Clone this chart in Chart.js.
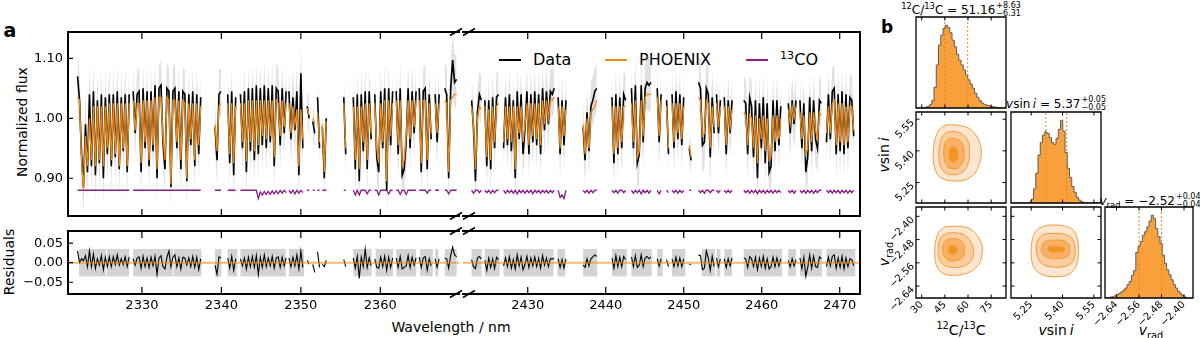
<!DOCTYPE html>
<html>
<head>
<meta charset="utf-8">
<script src="https://cdn.jsdelivr.net/npm/chart.js@4.4.1/dist/chart.umd.min.js"></script>
<style>
  body { margin: 0; background: #fff; }
  #fig { position: relative; width: 1200px; height: 338px; overflow: hidden; font-family: "DejaVu Sans", sans-serif; color: #000; }
  #fig canvas { position: absolute; }
  .t { position: absolute; white-space: nowrap; line-height: 1; transform: translate(-50%, -50%); }
  .rot { transform: translate(-50%, -50%) rotate(-90deg); }
  .hd { position: absolute; height: 2px; }
  sup, sub { font-size: 70%; line-height: 0; }
  .ss { display: inline-flex; flex-direction: column; font-size: 8px; line-height: 1.05; vertical-align: middle; margin-left: 1px; }
</style>
</head>
<body>
<div id="fig">
  <div class="t" style="left:10px;top:30px;font-size:19px;font-weight:bold;">a</div>
  <div class="t" style="left:887px;top:27px;font-size:17px;font-weight:bold;">b</div>
  <div class="t rot" style="left:22px;top:122px;font-size:14px;">Normalized flux</div>
  <div class="t rot" style="left:9px;top:262px;font-size:14px;">Residuals</div>
  <div class="t" style="left:451px;top:327px;font-size:14px;">Wavelength / nm</div>

  <div class="hd" style="left:499px;top:59px;width:22px;background:#000;"></div>
  <div class="t" style="left:533px;top:60px;font-size:16px;transform:translate(0,-50%);">Data</div>
  <div class="hd" style="left:605px;top:59px;width:22px;background:#f08a17;"></div>
  <div class="t" style="left:639px;top:60px;font-size:16px;transform:translate(0,-50%);">PHOENIX</div>
  <div class="hd" style="left:746px;top:59px;width:22px;background:#8b1c8b;"></div>
  <div class="t" style="left:780px;top:60px;font-size:16px;transform:translate(0,-50%);"><sup>13</sup>CO</div>

  <div class="t" style="left:961px;top:10px;font-size:12px;"><sup>12</sup>C/<sup>13</sup>C = 51.16<span class="ss"><span>+8.63</span><span>&minus;6.31</span></span></div>
  <div class="t" style="left:1056px;top:104px;font-size:12px;"><i>v</i>sin&thinsp;<i>i</i> = 5.37<span class="ss"><span>+0.05</span><span>&minus;0.05</span></span></div>
  <div class="t" style="left:1150px;top:201px;font-size:12px;"><i>v</i><sub>rad</sub> = &minus;2.52<span class="ss"><span>+0.04</span><span>&minus;0.04</span></span></div>

  <div class="t" style="left:961px;top:330px;font-size:14px;"><sup>12</sup>C/<sup>13</sup>C</div>
  <div class="t" style="left:1056px;top:330px;font-size:14px;"><i>v</i>sin&thinsp;<i>i</i></div>
  <div class="t" style="left:1151px;top:330px;font-size:14px;"><i>v</i><sub>rad</sub></div>
  <div class="t rot" style="left:884px;top:155px;font-size:14px;"><i>v</i>sin&thinsp;<i>i</i></div>
  <div class="t rot" style="left:884px;top:254px;font-size:14px;"><i>v</i><sub>rad</sub></div>
</div>
<script>
// ---- spectrum (panel a) ----
const STEP = 0.25; // nm between samples inside a chunk
const waveRangeLeft = [2320.7, 2369.9];
const waveRangeRight = [2421.7, 2472.6];
const fluxRange = [0.837, 1.144];
const residRange = [-0.08, 0.081];
const waveTicksLeft = [2330, 2340, 2350, 2360];
const waveTicksRight = [2430, 2440, 2450, 2460, 2470];
const fluxTicks = [0.90, 1.00, 1.10];
const residTicks = [-0.05, 0, 0.05];
const residBand = 0.035;

const startsLeft = [2321.9, 2328.9, 2339.2, 2340.8, 2342.4, 2348.5, 2350.8, 2351.5, 2352.1, 2352.7, 2355.4, 2356.6, 2359.3, 2362.0, 2364.9, 2366.9, 2368.1];
const modelLeft = [
  [1.035,1.03,0.93,0.88,0.97,0.92,1.0,0.93,1.02,0.92,1.02,0.93,1.02,0.92,1.02,0.95,1.025,0.93,1.025,0.94,1.025,0.92,1.025,0.95,1.025,0.92,1.025],
  [1.03,0.98,1.025,1.025,0.925,1.03,0.96,1.03,0.93,1.03,0.955,1.035,0.915,1.035,1.035,0.97,0.93,1.035,1.03,0.89,1.03,1.03,0.96,1.03,0.93,1.03,1.025,0.9,1.025,0.965,1.025,0.93,1.025,0.955,1.02],
  [0.99,0.945,1.02,1.025],
  [1.025,0.94,1.025,0.925,1.02],
  [1.025,0.96,1.025,0.928,1.03,0.96,1.03,0.945,1.03,0.955,1.03,0.97,1.03,0.965,1.03,0.97,1.03,0.935,1.03,1.025,0.97,1.03,0.985,1.025],
  [1.025,0.975,1.02,0.99,1.015,0.92,1.015,0.965],
  [1.017,1.005],
  [1.0,0.99],
  [1.01,0.96],
  [0.99,0.91,0.995],
  [1.025,0.95],
  [1.02,0.93,1.02,0.915,1.02,0.96,1.025,0.93,1.025,0.975],
  [1.025,0.95,0.925,1.025,0.96,1.03,0.895,1.03,0.97,1.025],
  [1.03,0.955,1.03,0.92,0.93,0.97,1.03,0.965,1.03,0.985,1.03],
  [1.03,0.925,1.03,1.03,0.93,1.025,0.975],
  [1.025,0.975,1.025],
  [1.03,1.025,0.91,1.03,1.035,1.04,1.04]
];
const fluxLeft = [
  [1.07,1.03,0.94,0.885,0.99,0.91,1.04,0.92,1.045,0.905,1.03,0.925,1.04,0.9,1.035,0.94,1.04,0.92,1.04,0.935,1.045,0.915,1.035,0.945,1.04,0.91,1.04],
  [1.045,0.975,1.04,1.045,0.91,1.05,0.95,1.045,0.92,1.045,0.945,1.055,0.9,1.05,1.055,0.96,0.915,1.05,1.045,0.885,1.045,1.05,0.95,1.045,0.915,1.045,1.04,0.895,1.04,0.955,1.045,0.92,1.04,0.94,1.035],
  [0.985,0.93,1.04,1.045],
  [1.04,0.925,1.045,0.905,1.035],
  [1.04,0.95,1.045,0.91,1.05,0.945,1.05,0.93,1.055,0.94,1.05,0.955,1.055,0.95,1.05,0.96,1.055,0.92,1.05,1.045,0.955,1.05,0.975,1.045],
  [1.045,0.965,1.035,0.98,1.045,0.905,1.075,0.95],
  [1.02,1.0],
  [0.995,0.975],
  [1.035,0.95],
  [0.985,0.9,1.0],
  [1.035,0.94],
  [1.035,0.915,1.04,0.895,1.04,0.945,1.045,0.915,1.045,0.965],
  [1.04,0.935,0.91,1.045,0.95,1.05,0.88,1.05,0.955,1.045],
  [1.045,0.94,1.05,0.905,0.915,0.96,1.05,0.95,1.045,0.975,1.045],
  [1.05,0.91,1.045,1.05,0.915,1.04,0.965],
  [1.04,0.96,1.04],
  [1.05,1.04,0.9,1.05,1.097,1.06,1.065]
];
const residLeft = [
  [0.03,0.0,0.01,0.005,0.018,-0.01,0.03,-0.01,0.022,-0.015,0.01,-0.006,0.018,-0.018,0.014,-0.01,0.015,-0.01,0.015,-0.005,0.02,-0.006,0.01,-0.005,0.015,-0.01,0.015],
  [0.01,-0.006,0.012,0.015,-0.014,0.016,-0.01,0.012,-0.012,0.014,-0.008,0.016,-0.03,0.012,0.018,-0.01,-0.016,0.014,0.03,-0.01,0.014,0.02,-0.01,0.012,-0.016,0.014,0.012,-0.006,0.012,-0.01,0.016,-0.012,0.014,-0.018,0.01],
  [-0.006,-0.03,0.015,0.012],
  [0.012,-0.014,0.016,-0.02,0.01],
  [0.01,-0.008,0.012,-0.016,0.014,-0.01,0.016,-0.012,0.018,-0.03,0.014,-0.012,0.02,-0.01,0.012,-0.008,0.016,-0.014,0.012,0.015,-0.012,0.014,-0.008,0.012],
  [0.012,-0.01,0.014,-0.008,0.02,-0.016,0.03,-0.012],
  [0.006,-0.004],
  [-0.004,-0.025],
  [0.028,-0.012],
  [-0.004,-0.01,0.006],
  [0.008,-0.01],
  [0.012,-0.014,0.016,-0.04,0.014,-0.01,0.035,-0.012,0.012,-0.008],
  [0.01,-0.012,-0.014,0.014,-0.01,0.016,-0.02,0.014,-0.012,0.012],
  [0.012,-0.012,0.016,-0.016,-0.012,-0.008,0.018,-0.012,0.014,-0.006,0.012],
  [0.014,-0.012,0.012,0.016,-0.02,0.01,-0.008],
  [0.01,-0.012,0.01],
  [0.012,0.01,-0.014,0.018,0.04,0.02,0.015]
];
const co13Left = [
  [0.88,0.88,0.88,0.88,0.88,0.88,0.88,0.88,0.88,0.88,0.88,0.88,0.88,0.88,0.88,0.88,0.88,0.88,0.88,0.88,0.88,0.88,0.88,0.88,0.88,0.88,0.88],
  [0.88,0.88,0.88,0.88,0.88,0.88,0.88,0.88,0.88,0.88,0.88,0.88,0.88,0.88,0.88,0.88,0.88,0.88,0.88,0.88,0.88,0.88,0.88,0.88,0.88,0.88,0.88,0.88,0.88,0.88,0.88,0.88,0.88,0.88,0.88],
  [0.88,0.88,0.88,0.88],
  [0.88,0.88,0.88,0.88,0.88],
  [0.88,0.88,0.88,0.88,0.88,0.88,0.88,0.88,0.88,0.866,0.877,0.872,0.878,0.873,0.878,0.873,0.879,0.874,0.879,0.874,0.88,0.875,0.88,0.876],
  [0.88,0.875,0.88,0.874,0.88,0.875,0.88,0.876],
  [0.88,0.88],
  [0.88,0.88],
  [0.88,0.88],
  [0.88,0.88,0.88],
  [0.88,0.88],
  [0.88,0.872,0.88,0.872,0.88,0.88,0.88,0.874,0.88,0.88],
  [0.88,0.88,0.872,0.88,0.88,0.88,0.88,0.874,0.88,0.88],
  [0.88,0.88,0.873,0.88,0.88,0.873,0.88,0.88,0.88,0.88,0.88],
  [0.88,0.88,0.88,0.88,0.875,0.88,0.88],
  [0.88,0.88,0.88],
  [0.88,0.88,0.874,0.88,0.88,0.88,0.88]
];
const errLeft = [0.045,0.04,0.04,0.04,0.04,0.045,0.03,0.03,0.03,0.03,0.04,0.04,0.04,0.04,0.04,0.04,0.045];
const residBoxesLeft = [[2322.1,2325.5],[2325.6,2328.4],[2328.9,2333.9],[2334.0,2337.5],[2339.2,2340.0],[2340.8,2342.0],[2342.4,2348.1],[2348.5,2350.4],[2356.6,2358.9],[2359.4,2361.6],[2362.0,2364.5],[2365.0,2366.6],[2366.9,2367.3],[2368.1,2369.6]];

const startsRight = [2422.8, 2424.5, 2426.9, 2433.9, 2437.1, 2440.8, 2443.3, 2446.6, 2447.8, 2448.5, 2450.7, 2451.9, 2454.2, 2455.2, 2457.7, 2463.4, 2464.9, 2468.3];
const modelRight = [
  [1.02,0.99,0.915,1.0,1.02,1.015],
  [1.02,0.935,1.015,0.93,1.02,0.96,1.02,1.025],
  [0.96,1.02,0.965,1.02,0.96,1.02,0.915,1.02,0.975,1.02,0.96,0.99,1.025,0.955,1.025,0.97,1.025,0.965,1.025,0.955,1.03,0.99,1.03,1.0,1.03,1.03,1.035],
  [1.02,0.95,1.02,0.97,1.015],
  [0.99,0.94,1.0,0.95,1.01,1.015,1.02,1.03],
  [1.02,0.94,1.02,0.95,1.02,0.96,1.02,1.02],
  [1.025,0.96,1.03,0.935,0.945,1.03,0.97,1.035,1.04,1.04,1.04],
  [1.035,0.97,1.03],
  [1.02,0.95],
  [1.025,0.96,1.025,0.975,1.025,0.965,1.02],
  [0.955,0.935],
  [1.035,1.03,0.97,0.975,1.03,1.025,0.95,1.02,0.985],
  [1.025,0.985,1.02],
  [1.02,0.955,1.02,0.985,1.015],
  [1.01,1.005,0.955,1.005,1.0,0.95,1.005,0.925,1.0,0.965,1.005,0.945,1.0,0.93,0.935,1.005,0.96,1.005,0.965,1.0],
  [1.015,0.99,1.02,1.0,1.02],
  [1.01,0.965,1.005,0.94,0.95,1.01,0.96,1.01,0.98,0.965,1.01,1.005],
  [0.975,1.02,0.975,1.025,1.03,0.955,1.025,0.96,1.025,0.955,1.02,0.96,1.02,1.02,0.98]
];
const fluxRight = [
  [1.03,0.985,0.895,1.01,1.04,1.03],
  [1.03,0.92,1.03,0.915,1.035,0.95,1.035,1.04],
  [0.95,1.035,0.955,1.04,0.945,1.03,0.9,1.045,0.965,1.04,0.94,0.985,1.045,0.94,1.04,0.96,1.045,0.955,1.04,0.94,1.05,0.98,1.045,0.99,1.045,1.04,1.05],
  [1.035,0.94,1.03,0.955,1.03],
  [0.985,0.93,1.01,0.945,1.02,1.03,1.045,1.05],
  [1.035,0.925,1.04,0.94,1.035,0.95,1.04,1.03],
  [1.05,0.95,1.055,0.925,0.94,1.055,0.96,1.05,1.06,1.055,1.06],
  [1.05,0.96,1.04],
  [1.03,0.94],
  [1.04,0.95,1.045,0.965,1.04,0.955,1.035],
  [0.95,0.93],
  [1.06,1.05,0.955,0.96,1.05,1.04,0.935,1.035,0.975],
  [1.04,0.975,1.03],
  [1.035,0.94,1.03,0.975,1.03],
  [1.03,1.025,0.94,1.035,1.02,0.935,1.03,0.9,1.025,0.95,1.035,0.925,1.025,0.91,0.92,1.03,0.945,1.03,0.955,1.02],
  [1.025,0.975,1.03,0.99,1.03],
  [1.03,0.95,1.025,0.91,0.935,1.035,0.945,1.03,0.965,0.95,1.03,1.025],
  [0.96,1.04,0.965,1.045,1.05,0.94,1.04,0.945,1.045,0.94,1.04,0.95,1.035,1.03,0.97]
];
const residRight = [
  [0.008,-0.01,-0.015,0.012,0.016,0.01],
  [0.006,-0.02,0.012,-0.012,0.01,-0.015,0.014,0.008],
  [-0.008,0.012,-0.01,0.015,-0.014,0.008,-0.016,0.02,-0.008,0.014,-0.018,-0.004,0.016,-0.012,0.012,-0.008,0.015,-0.01,0.011,-0.014,0.018,-0.006,0.012,-0.01,0.011,0.009,0.012],
  [0.01,-0.012,0.008,-0.014,0.01],
  [-0.006,-0.012,0.01,-0.008,0.01,0.015,0.02,0.016],
  [0.012,-0.014,0.018,-0.01,0.014,-0.01,0.016,0.008],
  [0.015,-0.01,0.018,-0.012,-0.006,0.02,-0.01,0.012,0.016,0.01,0.015],
  [0.01,-0.008,0.01],
  [0.008,-0.01],
  [0.01,-0.01,0.014,-0.008,0.012,-0.01,0.01],
  [-0.004,-0.004],
  [0.02,0.018,-0.018,-0.014,0.03,0.012,-0.02,0.016,-0.01],
  [0.012,-0.01,0.01],
  [0.01,-0.012,0.01,-0.008,0.012],
  [0.012,0.01,-0.012,0.016,0.01,-0.01,0.014,-0.018,0.012,-0.01,0.016,-0.014,0.01,-0.016,-0.01,0.014,-0.01,0.012,-0.008,0.01],
  [0.006,-0.01,0.01,-0.008,0.008],
  [0.012,-0.015,0.014,-0.035,-0.012,0.02,-0.014,0.016,-0.01,-0.012,0.015,0.01],
  [-0.01,0.014,-0.008,0.016,0.02,-0.014,0.012,-0.012,0.016,-0.016,0.012,-0.01,0.01,0.008,-0.008]
];
const co13Right = [
  [0.88,0.875,0.88,0.88,0.876,0.88],
  [0.88,0.876,0.88,0.875,0.88,0.876,0.88,0.88],
  [0.88,0.875,0.88,0.876,0.88,0.875,0.88,0.874,0.88,0.876,0.88,0.875,0.88,0.876,0.88,0.874,0.88,0.876,0.88,0.875,0.88,0.876,0.88,0.875,0.88,0.876,0.88],
  [0.88,0.868,0.872,0.866,0.88],
  [0.88,0.876,0.88,0.875,0.88,0.876,0.88,0.88],
  [0.88,0.876,0.88,0.875,0.88,0.88,0.876,0.88],
  [0.88,0.875,0.88,0.876,0.88,0.874,0.88,0.876,0.88,0.875,0.88],
  [0.88,0.874,0.88],
  [0.88,0.876],
  [0.88,0.876,0.88,0.875,0.88,0.876,0.88],
  [0.88,0.88],
  [0.88,0.876,0.88,0.875,0.88,0.88,0.876,0.88,0.88],
  [0.88,0.876,0.88],
  [0.88,0.876,0.88,0.876,0.88],
  [0.88,0.876,0.88,0.875,0.88,0.876,0.88,0.874,0.88,0.876,0.88,0.875,0.88,0.876,0.88,0.875,0.88,0.876,0.88,0.876],
  [0.88,0.876,0.88,0.875,0.88],
  [0.88,0.876,0.88,0.875,0.88,0.876,0.88,0.875,0.88,0.876,0.88,0.88],
  [0.88,0.876,0.88,0.875,0.88,0.876,0.88,0.875,0.88,0.876,0.88,0.875,0.88,0.876,0.88]
];
const errRight = [0.04,0.04,0.04,0.04,0.04,0.04,0.045,0.04,0.04,0.04,0.025,0.045,0.04,0.04,0.04,0.04,0.04,0.04];
const residBoxesRight = [[2422.8,2424.1],[2424.5,2426.4],[2426.9,2433.3],[2433.8,2434.8],[2437.1,2438.9],[2440.8,2442.7],[2443.3,2445.9],[2446.6,2447.3],[2448.5,2450.2],[2452.3,2454.0],[2454.2,2454.7],[2455.2,2456.2],[2457.7,2462.6],[2463.4,2464.4],[2464.9,2467.7],[2468.3,2472.0]];

// ---- posterior (panel b) ----
const ratioRange = [26.3, 84.6];
const vsiniRange = [5.153, 5.584];
const vradRange = [-2.681, -2.368];
const ratioTicks = [30, 45, 60, 75];
const vsiniTicks = [5.25, 5.40, 5.55];
const vradTicks = [-2.64, -2.56, -2.48, -2.40];
const histTop = 1.1;

const ratioBinWidth = 1.4575;
const ratioCounts = [0,0,0,0,0.003,0.01,0.02,0.04,0.09,0.25,0.52,0.76,0.88,0.96,1.0,0.97,0.91,0.82,0.74,0.65,0.58,0.52,0.46,0.40,0.34,0.29,0.24,0.18,0.13,0.09,0.06,0.045,0.035,0.03,0.02,0.015,0.01,0.005,0.002,0];
const vsiniBinWidth = 0.010775;
const vsiniCounts = [0,0,0,0,0,0,0,0,0,0.01,0.045,0.17,0.36,0.58,0.73,0.82,0.86,0.84,0.79,0.73,0.71,0.78,0.89,1.0,0.87,0.61,0.42,0.31,0.2,0.13,0.07,0.035,0.015,0.005,0,0,0,0,0,0];
const vradBinWidth = 0.007825;
const vradCounts = [0,0,0,0.01,0.015,0.025,0.04,0.055,0.07,0.09,0.12,0.16,0.2,0.27,0.33,0.55,0.62,0.68,0.76,0.8,0.86,0.93,1.0,0.96,0.84,0.74,0.66,0.52,0.42,0.34,0.28,0.22,0.16,0.12,0.08,0.05,0.03,0.01,0,0];

const ratioQuantiles = [44.85, 59.79];
const vsiniQuantiles = [5.32, 5.42];
const vradQuantiles = [-2.56, -2.48];

// contour levels, outermost first: [x, y] pairs
const ratioVsiniLevels = [
  [[47,5.524],[55,5.52],[61,5.505],[65.5,5.47],[68,5.43],[68.6,5.39],[67.5,5.34],[64,5.29],[58,5.262],[50,5.258],[43,5.27],[39.3,5.30],[37.6,5.35],[37.8,5.42],[39.8,5.48],[43,5.512],[47,5.524]],
  [[48,5.492],[54,5.488],[58.5,5.465],[60.6,5.43],[61,5.39],[60,5.34],[57,5.302],[51,5.287],[45.5,5.295],[42.3,5.325],[41.1,5.38],[42,5.44],[44.5,5.478],[48,5.492]],
  [[49,5.46],[53.5,5.455],[56.5,5.43],[57.4,5.39],[56.5,5.345],[53.5,5.318],[49.5,5.315],[46,5.33],[44.4,5.37],[44.5,5.42],[46,5.448],[49,5.46]],
  [[50.3,5.419],[52.6,5.41],[53.5,5.385],[52.9,5.357],[50.6,5.347],[48.4,5.355],[47.7,5.383],[48.3,5.41],[50.3,5.419]]
];
const ratioVradLevels = [
  [[45,-2.436],[53,-2.434],[60,-2.44],[65,-2.46],[68.5,-2.49],[69.2,-2.525],[67,-2.565],[61,-2.592],[52,-2.603],[44,-2.597],[40,-2.575],[38.5,-2.54],[38.8,-2.495],[41,-2.455],[45,-2.436]],
  [[46,-2.458],[53,-2.457],[58.5,-2.467],[62,-2.49],[63.6,-2.52],[62,-2.553],[57,-2.572],[50,-2.576],[44.5,-2.568],[41.3,-2.545],[40.7,-2.51],[42,-2.475],[46,-2.458]],
  [[48,-2.477],[53,-2.478],[56.5,-2.49],[57.8,-2.515],[56.5,-2.54],[52.5,-2.553],[47.5,-2.551],[44.5,-2.537],[43.5,-2.513],[44.8,-2.488],[48,-2.477]],
  [[49.5,-2.499],[52,-2.503],[52.9,-2.515],[51.8,-2.528],[49.3,-2.531],[47.5,-2.524],[47.2,-2.51],[48,-2.502],[49.5,-2.499]]
];
const vsiniVradLevels = [
  [[5.33,-2.430],[5.40,-2.432],[5.45,-2.447],[5.472,-2.48],[5.476,-2.525],[5.465,-2.57],[5.43,-2.6],[5.36,-2.608],[5.30,-2.6],[5.262,-2.575],[5.25,-2.53],[5.255,-2.48],[5.28,-2.445],[5.33,-2.430]],
  [[5.33,-2.459],[5.40,-2.46],[5.44,-2.472],[5.458,-2.5],[5.46,-2.53],[5.445,-2.56],[5.40,-2.574],[5.33,-2.572],[5.29,-2.555],[5.275,-2.52],[5.28,-2.485],[5.30,-2.465],[5.33,-2.459]],
  [[5.34,-2.482],[5.40,-2.483],[5.428,-2.495],[5.435,-2.515],[5.425,-2.537],[5.39,-2.545],[5.335,-2.543],[5.305,-2.53],[5.298,-2.51],[5.31,-2.49],[5.34,-2.482]],
  [[5.35,-2.503],[5.39,-2.504],[5.41,-2.51],[5.405,-2.52],[5.37,-2.523],[5.34,-2.521],[5.331,-2.513],[5.335,-2.505],[5.35,-2.503]]
];

// ---- drawing ----
Chart.defaults.font.family = "'DejaVu Sans', sans-serif";
Chart.defaults.color = '#000';

const colData = '#000000';
const colModel = '#f08a17';
const colCO = '#8b1c8b';
const contourFill = ['#fde6cf', '#fbcd9c', '#f8b065', '#f5931f'];
const fig = document.getElementById('fig');

const fmt = (v, d) => (v < 0 ? '\u2212' : '') + Math.abs(v).toFixed(d);

function addCanvas(left, top, w, h) {
  const c = document.createElement('canvas');
  c.width = w; c.height = h;
  c.style.left = left + 'px'; c.style.top = top + 'px';
  c.style.width = w + 'px'; c.style.height = h + 'px';
  fig.appendChild(c);
  return c;
}

const baseOptions = {
  responsive: false,
  animation: false,
  devicePixelRatio: 1,
  events: [],
  plugins: { legend: { display: false }, tooltip: { enabled: false } },
  elements: { point: { radius: 0 } }
};

// spines, inward ticks, break marks and rotated y labels
function axesFrame(cfg) {
  return {
    id: 'axesFrame',
    afterDraw(chart) {
      const { ctx, chartArea: a, scales } = chart;
      ctx.save();
      ctx.strokeStyle = '#000';
      ctx.lineWidth = cfg.tickWidth || 1.2;
      ctx.beginPath();
      (cfg.xTicks || []).forEach(v => {
        const px = scales.x.getPixelForValue(v);
        ctx.moveTo(px, a.top); ctx.lineTo(px, a.top + cfg.xLen);
        ctx.moveTo(px, a.bottom); ctx.lineTo(px, a.bottom - cfg.xLen);
      });
      (cfg.yTicks || []).forEach(v => {
        const py = scales.y.getPixelForValue(v);
        ctx.moveTo(a.left, py); ctx.lineTo(a.left + cfg.yLen, py);
        if (cfg.rightTicks) { ctx.moveTo(a.right, py); ctx.lineTo(a.right - cfg.yLen, py); }
      });
      ctx.stroke();

      ctx.lineWidth = cfg.spine;
      ctx.lineCap = 'square';
      ctx.beginPath();
      const sides = cfg.sides;
      if (sides.includes('top')) { ctx.moveTo(a.left, a.top); ctx.lineTo(a.right, a.top); }
      if (sides.includes('bottom')) { ctx.moveTo(a.left, a.bottom); ctx.lineTo(a.right, a.bottom); }
      if (sides.includes('left')) { ctx.moveTo(a.left, a.top); ctx.lineTo(a.left, a.bottom); }
      if (sides.includes('right')) { ctx.moveTo(a.right, a.top); ctx.lineTo(a.right, a.bottom); }
      ctx.stroke();

      if (cfg.breakAt) {
        const cx = cfg.breakAt === 'right' ? a.right - 3 : a.left + 6;
        ctx.lineWidth = 1.5;
        ctx.lineCap = 'butt';
        ctx.beginPath();
        [a.top, a.bottom].forEach(y => { ctx.moveTo(cx - 6, y + 3.5); ctx.lineTo(cx + 6, y - 3.5); });
        ctx.stroke();
      }

      if (cfg.yLabels) {
        ctx.fillStyle = '#000';
        ctx.font = "10px 'DejaVu Sans', sans-serif";
        ctx.textAlign = 'right';
        ctx.textBaseline = 'middle';
        cfg.yTicks.forEach(v => {
          const py = scales.y.getPixelForValue(v);
          ctx.save();
          ctx.translate(a.left - 3, py + 2);
          ctx.rotate(-Math.PI / 4);
          ctx.fillText(fmt(v, cfg.yDec), 0, 0);
          ctx.restore();
        });
      }
      ctx.restore();
    }
  };
}

function residBoxPlugin(boxes) {
  return {
    id: 'residBoxes',
    beforeDatasetsDraw(chart) {
      const { ctx, scales: { x, y } } = chart;
      const y0 = y.getPixelForValue(residBand), y1 = y.getPixelForValue(-residBand);
      ctx.save();
      ctx.fillStyle = '#d3d3d3';
      boxes.forEach(([w0, w1]) => {
        const x0 = x.getPixelForValue(w0), x1 = x.getPixelForValue(w1);
        ctx.fillRect(x0, y0, x1 - x0, y1 - y0);
      });
      ctx.restore();
    }
  };
}

// one line through all chunks, broken between chunks
function chunkSeries(starts, values) {
  const pts = [];
  values.forEach((chunk, k) => {
    chunk.forEach((v, i) => pts.push({ x: starts[k] + i * STEP, y: v }));
    pts.push({ x: starts[k] + chunk.length * STEP, y: null });
  });
  return pts;
}

function errorBands(starts, flux, err) {
  const sets = [];
  flux.forEach((chunk, k) => {
    const upper = chunk.map((v, i) => ({ x: starts[k] + i * STEP, y: v + err[k] }));
    const lower = chunk.map((v, i) => ({ x: starts[k] + i * STEP, y: v - err[k] }));
    sets.push({ data: upper, fill: '+1', backgroundColor: 'rgba(165,165,165,0.33)', borderColor: 'transparent', borderWidth: 0, order: 10 });
    sets.push({ data: lower, fill: false, borderColor: 'transparent', borderWidth: 0, order: 10 });
  });
  return sets;
}

function spectrumChart(side) {
  const left = side === 'left';
  const starts = left ? startsLeft : startsRight;
  const range = left ? waveRangeLeft : waveRangeRight;
  const cv = left ? addCanvas(0, 0, 464, 220) : addCanvas(460, 0, 410, 220);
  new Chart(cv, {
    type: 'line',
    data: {
      datasets: [
        { data: chunkSeries(starts, left ? modelLeft : modelRight), borderColor: colModel, borderWidth: 1.3, order: 0 },
        { data: chunkSeries(starts, left ? fluxLeft : fluxRight), borderColor: colData, borderWidth: 1.6, order: 1 },
        { data: chunkSeries(starts, left ? co13Left : co13Right), borderColor: colCO, borderWidth: 1.3, order: 2 },
        ...errorBands(starts, left ? fluxLeft : fluxRight, left ? errLeft : errRight)
      ]
    },
    options: {
      ...baseOptions,
      layout: { padding: left ? { left: 0, right: 5, top: 32, bottom: 4 } : { left: 3, right: 10, top: 32, bottom: 4 } },
      scales: {
        x: { type: 'linear', min: range[0], max: range[1], display: false,
             afterFit: s => { s.height = 0; } },
        y: {
          type: 'linear', min: fluxRange[0], max: fluxRange[1], display: left,
          grid: { display: false, drawTicks: false }, border: { display: false },
          ticks: { font: { size: 13 }, padding: 5, callback: v => fmt(v, 2) },
          afterBuildTicks: s => { s.ticks = fluxTicks.map(value => ({ value })); },
          afterFit: s => { s.width = left ? 68 : 0; s.paddingTop = 0; s.paddingBottom = 0; }
        }
      }
    },
    plugins: [axesFrame({
      sides: left ? ['top', 'bottom', 'left'] : ['top', 'bottom', 'right'],
      xTicks: left ? waveTicksLeft : waveTicksRight, xLen: 7,
      yTicks: left ? fluxTicks : [], yLen: 5, spine: 2,
      breakAt: left ? 'right' : 'left'
    })]
  });
}

function residualChart(side) {
  const left = side === 'left';
  const starts = left ? startsLeft : startsRight;
  const range = left ? waveRangeLeft : waveRangeRight;
  const ticks = left ? waveTicksLeft : waveTicksRight;
  const cv = left ? addCanvas(0, 220, 464, 118) : addCanvas(460, 220, 410, 118);
  new Chart(cv, {
    type: 'line',
    data: {
      datasets: [
        { data: range.map(x => ({ x, y: 0 })), borderColor: 'rgba(240,138,23,0.6)', borderWidth: 2, order: 0 },
        { data: chunkSeries(starts, left ? residLeft : residRight), borderColor: colData, borderWidth: 1.1, order: 1 }
      ]
    },
    options: {
      ...baseOptions,
      layout: { padding: left ? { left: 0, right: 5, top: 11, bottom: 0 } : { left: 3, right: 10, top: 11, bottom: 0 } },
      scales: {
        x: {
          type: 'linear', min: range[0], max: range[1],
          grid: { display: false, drawTicks: false }, border: { display: false },
          ticks: { font: { size: 13 }, padding: 4, autoSkip: false, maxRotation: 0, callback: v => String(v) },
          afterBuildTicks: s => { s.ticks = ticks.map(value => ({ value })); },
          afterFit: s => { s.height = 44; s.paddingLeft = 0; s.paddingRight = 0; }
        },
        y: {
          type: 'linear', min: residRange[0], max: residRange[1], display: left,
          grid: { display: false, drawTicks: false }, border: { display: false },
          ticks: { font: { size: 13 }, padding: 5, callback: v => fmt(v, 2) },
          afterBuildTicks: s => { s.ticks = residTicks.map(value => ({ value })); },
          afterFit: s => { s.width = left ? 68 : 0; s.paddingTop = 0; s.paddingBottom = 0; }
        }
      }
    },
    plugins: [
      residBoxPlugin(left ? residBoxesLeft : residBoxesRight),
      axesFrame({
        sides: left ? ['top', 'bottom', 'left'] : ['top', 'bottom', 'right'],
        xTicks: ticks, xLen: 7,
        yTicks: left ? residTicks : [], yLen: 5, spine: 2,
        breakAt: left ? 'right' : 'left'
      })
    ]
  });
}

spectrumChart('left');
spectrumChart('right');
residualChart('left');
residualChart('right');

// corner grid
const cornerCols = [{ l: 916, w: 90 }, { l: 1011, w: 90 }, { l: 1105, w: 88 }];
const cornerRows = [{ t: 17, h: 91 }, { t: 112, h: 91 }, { t: 207, h: 91 }];

function histSets(lo, width, counts, quantiles) {
  const pts = counts.map((c, i) => ({ x: lo + i * width, y: c }));
  pts.push({ x: lo + counts.length * width, y: counts[counts.length - 1] });
  return [
    ...quantiles.map(q => ({ data: [{ x: q, y: 0 }, { x: q, y: histTop }], borderColor: '#e8841a', borderWidth: 1, borderDash: [2, 2], fill: false, order: 0 })),
    { data: pts, stepped: 'after', fill: 'origin', backgroundColor: '#f8a13c', borderColor: '#5c5c5c', borderWidth: 1, order: 1 }
  ];
}

function contourSets(levels) {
  return levels.map((pts, k) => ({
    data: pts.map(([x, y]) => ({ x, y })),
    showLine: true, fill: 'shape', tension: 0.35,
    backgroundColor: contourFill[k], borderColor: '#f39a3c', borderWidth: 1,
    pointRadius: 0, order: levels.length - k
  }));
}

function cornerChart(r, c, type, datasets, xr, yr, xt, xDec, yt, yDec) {
  const col = cornerCols[c], row = cornerRows[r];
  const padL = r === 2 || (c === 0 && r > 0) ? 32 : 3, padT = 3, padR = 3, padB = r === 2 ? 42 : 3;
  const cv = addCanvas(col.l - padL, row.t - padT, col.w + padL + padR, row.h + padT + padB);
  new Chart(cv, {
    type,
    data: { datasets },
    options: {
      ...baseOptions,
      layout: { padding: { left: padL, right: padR, top: padT, bottom: r === 2 ? 0 : padB } },
      scales: {
        x: {
          type: 'linear', min: xr[0], max: xr[1], display: r === 2,
          grid: { display: false, drawTicks: false }, border: { display: false },
          ticks: { font: { size: 10 }, minRotation: 45, maxRotation: 45, autoSkip: false, padding: 1, callback: v => fmt(v, xDec) },
          afterBuildTicks: s => { s.ticks = xt.map(value => ({ value })); },
          afterFit: s => { s.height = r === 2 ? padB : 0; s.paddingLeft = 0; s.paddingRight = 0; }
        },
        y: { type: 'linear', min: yr[0], max: yr[1], display: false, afterFit: s => { s.width = 0; } }
      }
    },
    plugins: [axesFrame({
      sides: ['top', 'bottom', 'left', 'right'],
      xTicks: xt, xLen: 3.5, yTicks: yt || [], yLen: 3.5, rightTicks: true,
      spine: 1.3, tickWidth: 1,
      yLabels: c === 0 && r > 0, yDec
    })]
  });
}

cornerChart(0, 0, 'line', histSets(ratioRange[0], ratioBinWidth, ratioCounts, ratioQuantiles), ratioRange, [0, histTop], ratioTicks, 0);
cornerChart(1, 0, 'scatter', contourSets(ratioVsiniLevels), ratioRange, vsiniRange, ratioTicks, 0, vsiniTicks, 2);
cornerChart(1, 1, 'line', histSets(vsiniRange[0], vsiniBinWidth, vsiniCounts, vsiniQuantiles), vsiniRange, [0, histTop], vsiniTicks, 2);
cornerChart(2, 0, 'scatter', contourSets(ratioVradLevels), ratioRange, vradRange, ratioTicks, 0, vradTicks, 2);
cornerChart(2, 1, 'scatter', contourSets(vsiniVradLevels), vsiniRange, vradRange, vsiniTicks, 2, vradTicks, 2);
cornerChart(2, 2, 'line', histSets(vradRange[0], vradBinWidth, vradCounts, vradQuantiles), vradRange, [0, histTop], vradTicks, 2);
</script>
</body>
</html>
